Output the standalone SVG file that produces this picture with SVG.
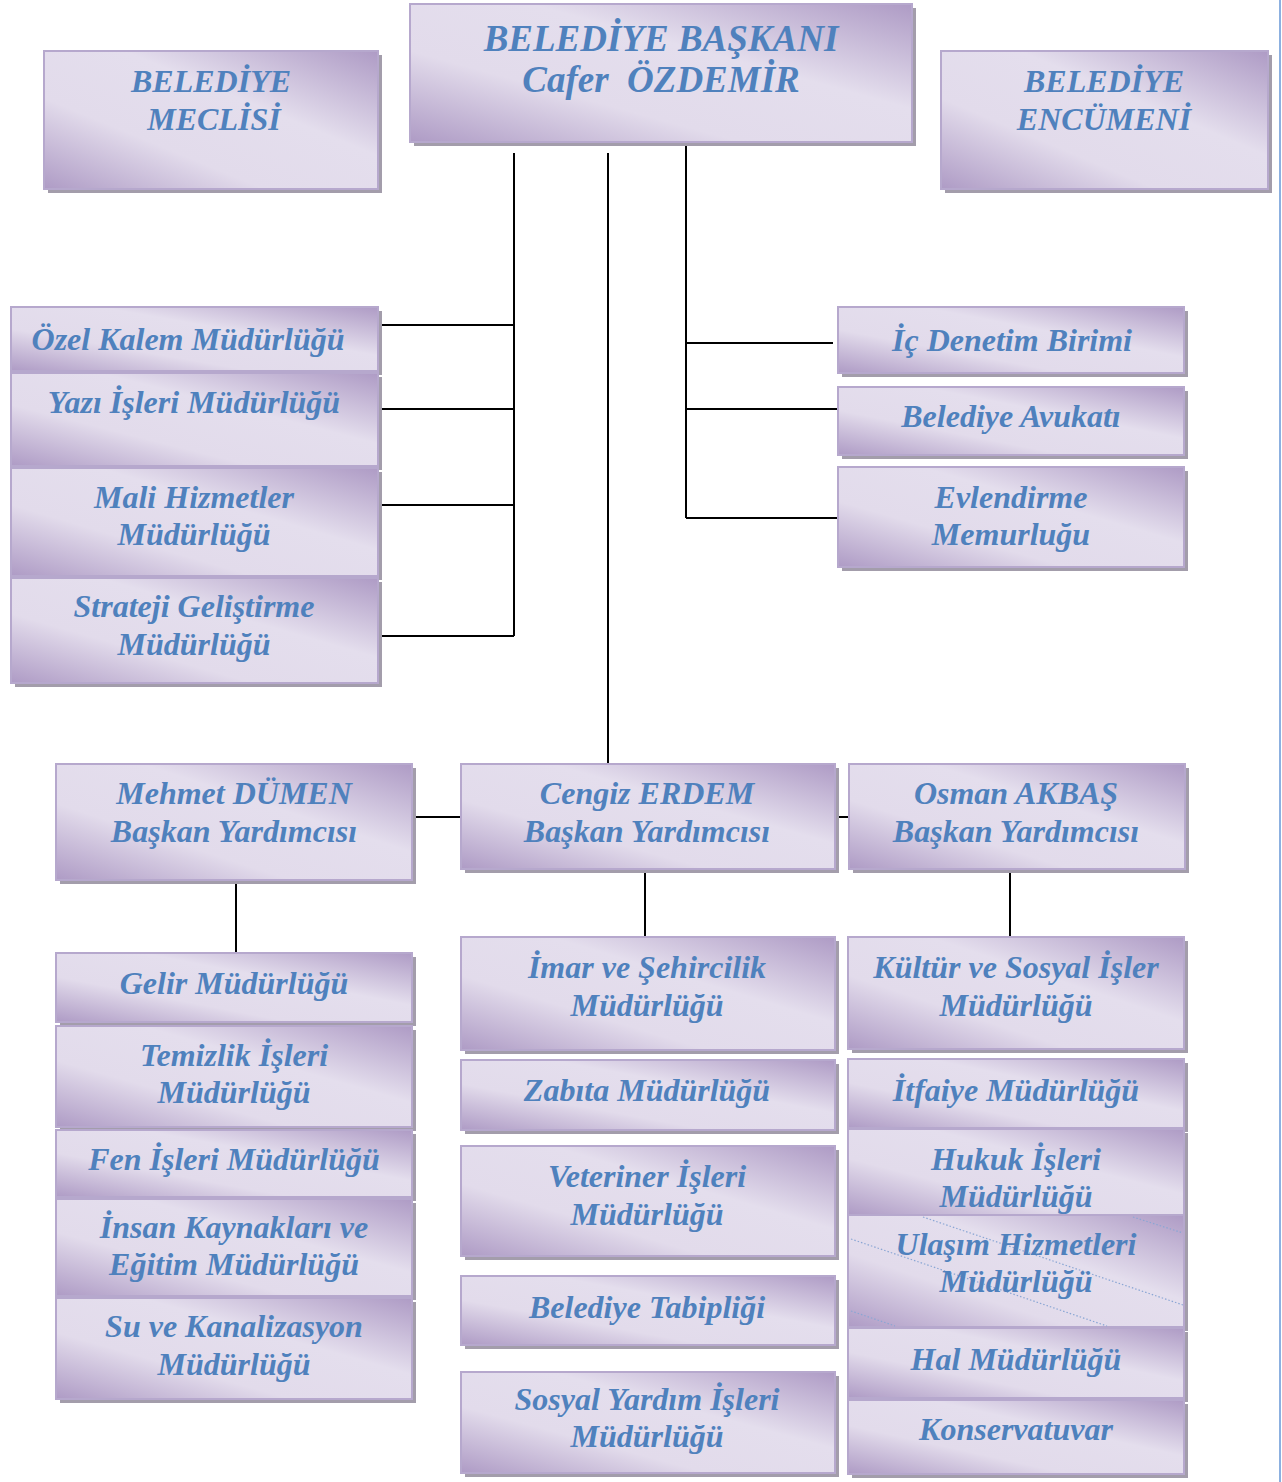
<svg xmlns="http://www.w3.org/2000/svg" width="1282" height="1482" viewBox="0 0 1282 1482">
<defs>
<linearGradient id="g" x1="0" y1="1" x2="1" y2="0">
<stop offset="0" stop-color="#ae9bc5"/>
<stop offset="0.33" stop-color="#e2dbeb"/>
<stop offset="0.62" stop-color="#e4deed"/>
<stop offset="1" stop-color="#ae9bc5"/>
</linearGradient>
<style>
.sh{fill:#a39dab}
.bx{fill:url(#g);stroke:#b6a8cd;stroke-width:2}
.t{font-family:"Liberation Serif","Times New Roman",serif;font-weight:bold;font-style:italic;fill:#4f81bd;font-size:32px;text-anchor:middle}
.tt{font-size:37px}
.c{stroke:#000;stroke-width:2;fill:none}
.d{stroke:#8aa6d4;stroke-width:1.2;stroke-dasharray:1.5 2;fill:none}
</style>
</defs>
<rect width="1282" height="1482" fill="#fff"/>
<line x1="1280" y1="0" x2="1280" y2="1482" stroke="#8cb0e0" stroke-width="2"/>

<g id="connectors">
<path class="c" d="M514 153V636M378 325H514M378 409H514M378 505H514M378 636H514"/>
<path class="c" d="M608 153V764"/>
<path class="c" d="M686 142V518M686 343H833M686 409H838M686 518H838"/>
<path class="c" d="M412 817H461M835 817H849"/>
<path class="c" d="M236 880V953M645 869V937M1010 869V937"/>
</g>

<g id="meclis"><rect class="sh" x="48" y="55" width="334" height="138"/><rect class="bx" x="44" y="51" width="334" height="138"/><text class="t" x="211" y="92">BELEDİYE</text><text class="t" x="214" y="130">MECLİSİ</text></g>
<g id="baskan"><rect class="sh" x="414" y="8" width="502" height="138"/><rect class="bx" x="410" y="4" width="502" height="138"/><text class="t tt" x="661" y="51">BELEDİYE BAŞKANI</text><text class="t tt" x="661" y="92">Cafer&#160; ÖZDEMİR</text></g>
<g id="encumen"><rect class="sh" x="945" y="55" width="327" height="138"/><rect class="bx" x="941" y="51" width="327" height="138"/><text class="t" x="1104" y="92">BELEDİYE</text><text class="t" x="1104" y="130">ENCÜMENİ</text></g>

<g id="ozel-kalem"><rect class="sh" x="15" y="311" width="367" height="64"/><rect class="bx" x="11" y="307" width="367" height="64"/><text class="t" x="188" y="350">Özel Kalem Müdürlüğü</text></g>
<g id="yazi-isleri"><rect class="sh" x="15" y="377" width="367" height="93"/><rect class="bx" x="11" y="373" width="367" height="93"/><text class="t" x="194" y="413">Yazı İşleri Müdürlüğü</text></g>
<g id="mali-hizmetler"><rect class="sh" x="15" y="472" width="367" height="108"/><rect class="bx" x="11" y="468" width="367" height="108"/><text class="t" x="194" y="508">Mali Hizmetler</text><text class="t" x="194" y="545">Müdürlüğü</text></g>
<g id="strateji"><rect class="sh" x="15" y="582" width="367" height="105"/><rect class="bx" x="11" y="578" width="367" height="105"/><text class="t" x="194" y="617">Strateji Geliştirme</text><text class="t" x="194" y="655">Müdürlüğü</text></g>

<g id="ic-denetim"><rect class="sh" x="842" y="311" width="346" height="66"/><rect class="bx" x="838" y="307" width="346" height="66"/><text class="t" x="1012" y="351">İç Denetim Birimi</text></g>
<g id="avukat"><rect class="sh" x="842" y="391" width="346" height="68"/><rect class="bx" x="838" y="387" width="346" height="68"/><text class="t" x="1011" y="427">Belediye Avukatı</text></g>
<g id="evlendirme"><rect class="sh" x="842" y="471" width="346" height="100"/><rect class="bx" x="838" y="467" width="346" height="100"/><text class="t" x="1011" y="508">Evlendirme</text><text class="t" x="1011" y="545">Memurluğu</text></g>

<g id="mehmet"><rect class="sh" x="60" y="768" width="356" height="116"/><rect class="bx" x="56" y="764" width="356" height="116"/><text class="t" x="234" y="804">Mehmet DÜMEN</text><text class="t" x="234" y="842">Başkan Yardımcısı</text></g>
<g id="cengiz"><rect class="sh" x="465" y="768" width="374" height="105"/><rect class="bx" x="461" y="764" width="374" height="105"/><text class="t" x="647" y="804">Cengiz ERDEM</text><text class="t" x="647" y="842">Başkan Yardımcısı</text></g>
<g id="osman"><rect class="sh" x="853" y="768" width="336" height="105"/><rect class="bx" x="849" y="764" width="336" height="105"/><text class="t" x="1016" y="804">Osman AKBAŞ</text><text class="t" x="1016" y="842">Başkan Yardımcısı</text></g>

<g id="gelir"><rect class="sh" x="60" y="957" width="356" height="69"/><rect class="bx" x="56" y="953" width="356" height="69"/><text class="t" x="234" y="994">Gelir Müdürlüğü</text></g>
<g id="temizlik"><rect class="sh" x="60" y="1030" width="356" height="101"/><rect class="bx" x="56" y="1026" width="356" height="101"/><text class="t" x="234" y="1066">Temizlik İşleri</text><text class="t" x="234" y="1103">Müdürlüğü</text></g>
<g id="fen"><rect class="sh" x="60" y="1134" width="356" height="67"/><rect class="bx" x="56" y="1130" width="356" height="67"/><text class="t" x="234" y="1170">Fen İşleri Müdürlüğü</text></g>
<g id="insan"><rect class="sh" x="60" y="1203" width="356" height="97"/><rect class="bx" x="56" y="1199" width="356" height="97"/><text class="t" x="234" y="1238">İnsan Kaynakları ve</text><text class="t" x="234" y="1275">Eğitim Müdürlüğü</text></g>
<g id="su"><rect class="sh" x="60" y="1302" width="356" height="101"/><rect class="bx" x="56" y="1298" width="356" height="101"/><text class="t" x="234" y="1337">Su ve Kanalizasyon</text><text class="t" x="234" y="1375">Müdürlüğü</text></g>

<g id="imar"><rect class="sh" x="465" y="941" width="374" height="113"/><rect class="bx" x="461" y="937" width="374" height="113"/><text class="t" x="647" y="978">İmar ve Şehircilik</text><text class="t" x="647" y="1016">Müdürlüğü</text></g>
<g id="zabita"><rect class="sh" x="465" y="1064" width="374" height="70"/><rect class="bx" x="461" y="1060" width="374" height="70"/><text class="t" x="647" y="1101">Zabıta Müdürlüğü</text></g>
<g id="veteriner"><rect class="sh" x="465" y="1150" width="374" height="110"/><rect class="bx" x="461" y="1146" width="374" height="110"/><text class="t" x="647" y="1187">Veteriner İşleri</text><text class="t" x="647" y="1225">Müdürlüğü</text></g>
<g id="tabiplik"><rect class="sh" x="465" y="1280" width="374" height="69"/><rect class="bx" x="461" y="1276" width="374" height="69"/><text class="t" x="647" y="1318">Belediye Tabipliği</text></g>
<g id="sosyal-yardim"><rect class="sh" x="465" y="1376" width="374" height="101"/><rect class="bx" x="461" y="1372" width="374" height="101"/><text class="t" x="647" y="1410">Sosyal Yardım İşleri</text><text class="t" x="647" y="1447">Müdürlüğü</text></g>

<g id="kultur"><rect class="sh" x="852" y="941" width="336" height="112"/><rect class="bx" x="848" y="937" width="336" height="112"/><text class="t" x="1016" y="978">Kültür ve Sosyal İşler</text><text class="t" x="1016" y="1016">Müdürlüğü</text></g>
<g id="itfaiye"><rect class="sh" x="852" y="1063" width="336" height="69"/><rect class="bx" x="848" y="1059" width="336" height="69"/><text class="t" x="1016" y="1101">İtfaiye Müdürlüğü</text></g>
<g id="hukuk"><rect class="sh" x="852" y="1133" width="336" height="86"/><rect class="bx" x="848" y="1129" width="336" height="86"/><text class="t" x="1016" y="1170">Hukuk İşleri</text><text class="t" x="1016" y="1207">Müdürlüğü</text></g>
<g id="ulasim"><rect class="sh" x="852" y="1219" width="336" height="112"/><rect class="bx" x="848" y="1215" width="336" height="112"/><path class="d" d="M923 1217L1183 1305M851 1239L1107 1326M1133 1217L1183 1233M851 1311L895 1326"/><text class="t" x="1016" y="1255">Ulaşım Hizmetleri</text><text class="t" x="1016" y="1292">Müdürlüğü</text></g>
<g id="hal"><rect class="sh" x="852" y="1332" width="336" height="70"/><rect class="bx" x="848" y="1328" width="336" height="70"/><text class="t" x="1016" y="1370">Hal Müdürlüğü</text></g>
<g id="konservatuvar"><rect class="sh" x="852" y="1404" width="336" height="74"/><rect class="bx" x="848" y="1400" width="336" height="74"/><text class="t" x="1016" y="1440">Konservatuvar</text></g>
</svg>
